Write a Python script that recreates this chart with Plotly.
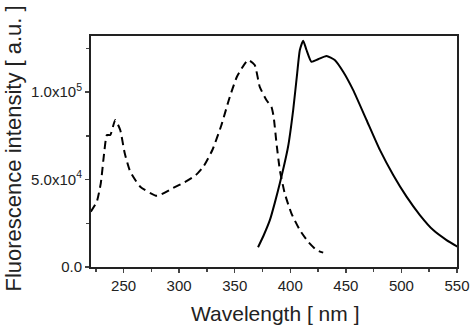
import plotly.graph_objects as go

# Excitation (dashed)
exc_x = [220.5, 225.9, 229.5, 232.5, 235, 238, 242.5, 247, 251, 256, 265, 280, 294.5, 305, 315, 322, 330, 338, 345, 352, 362, 368, 372.5, 378.5, 383, 385, 387.6, 390.6, 395, 401, 408.6, 416, 423.6, 429.6]
exc_y = [31600, 37300, 47800, 65000, 75400, 75400, 84000, 78300, 65100, 54500, 45900, 40700, 45100, 48500, 52500, 57500, 67000, 81000, 96000, 108700, 118300, 115400, 103000, 95400, 91600, 86000, 70700, 55400, 42100, 30700, 21100, 14500, 9700, 8200]

# Emission (solid)
em_x = [371, 376, 381.7, 386, 390.6, 398, 402.6, 406.2, 408.6, 411.6, 414.6, 419, 425, 432.6, 440, 447.6, 456.6, 468.6, 480.6, 492.6, 504.6, 516.6, 528.6, 540.6, 550.5]
em_y = [11300, 18000, 26900, 36500, 47800, 68700, 89700, 110700, 124000, 129300, 124000, 117300, 118700, 120600, 118300, 111600, 101100, 84000, 66900, 52600, 40200, 29700, 21100, 15400, 11600]

x_ticks = [250, 300, 350, 400, 450, 500, 550]
y_ticks = [0, 50000, 100000]
y_labels = ["0.0", "5.0x10<sup>4</sup>", "1.0x10<sup>5</sup>"]
x_title = "Wavelength [ nm ]"
y_title = "Fluorescence intensity [ a.u. ]"

fig = go.Figure()
fig.add_trace(go.Scatter(x=exc_x, y=exc_y, mode="lines", hoverinfo="skip",
                         line=dict(color="black", width=2, dash="8px,5px", shape="spline", smoothing=0.5)))
fig.add_trace(go.Scatter(x=em_x, y=em_y, mode="lines", hoverinfo="skip",
                         line=dict(color="black", width=2, shape="spline", smoothing=0.5)))

font = "Liberation Sans, Arial, sans-serif"
L, R, T, B, W, H = 91, 15, 36, 61, 472, 328
pw, ph = W - L - R, H - T - B
fig.update_layout(
    width=W, height=H,
    margin=dict(l=L, r=R, t=T, b=B),
    paper_bgcolor="white", plot_bgcolor="white",
    showlegend=False,
    font=dict(family=font, color="#222"),
    xaxis=dict(range=[220.7, 550], tickvals=x_ticks, ticks="outside", ticklen=4, tickwidth=1.5,
               showline=True, linecolor="#222", linewidth=2, mirror=True, showgrid=False, zeroline=False,
               automargin=False,
               tickfont=dict(size=15), minor=dict(dtick=25, ticks="outside", ticklen=3, tickwidth=1.5)),
    yaxis=dict(range=[0, 132000], tickvals=y_ticks, ticktext=y_labels, ticks="outside", ticklen=4, tickwidth=1.5,
               showline=True, linecolor="#222", linewidth=2, mirror=True, showgrid=False, zeroline=False,
               automargin=False,
               tickfont=dict(size=15), minor=dict(dtick=25000, ticks="outside", ticklen=3, tickwidth=1.5)),
    annotations=[
        dict(text=x_title, xref="paper", yref="paper", x=(275 - L) / pw, y=(H - B - 313) / ph,
             xanchor="center", yanchor="middle", showarrow=False, font=dict(size=21)),
        dict(text=y_title, xref="paper", yref="paper", x=(13 - L) / pw, y=(H - B - 148.5) / ph,
             xanchor="center", yanchor="middle", showarrow=False, textangle=-90, font=dict(size=22)),
    ],
)
fig.write_html("out.html", config={"displayModeBar": False, "staticPlot": True},
               post_script="document.body.style.margin='0';document.body.style.overflow='hidden';")
